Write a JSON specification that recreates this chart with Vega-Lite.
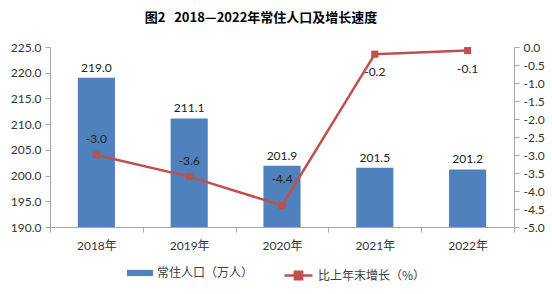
{
  "$schema": "https://vega.github.io/schema/vega-lite/v6.json",
  "width": 464,
  "height": 180,
  "autosize": "none",
  "padding": {"left": 50, "top": 47, "right": 38, "bottom": 67},
  "background": "white",
  "config": {"view": {"stroke": null}, "font": "Lato, Noto Sans CJK SC",
    "locale": {"number": {"decimal": ".", "thousands": ",", "grouping": [3], "currency": ["", ""], "minus": "-"}}},
  "title": {"text": "图2\u00a0\u00a0\u00a02018—2022年常住人口及增长速度", "font": "Noto Sans CJK SC", "fontSize": 13, "fontWeight": "bold", "color": "#000", "anchor": "middle", "dx": -21, "offset": 16},
  "data": {"values": [
    {"year": "2018年", "pop": 219.0, "growth": -3.0},
    {"year": "2019年", "pop": 211.1, "growth": -3.6},
    {"year": "2020年", "pop": 201.9, "growth": -4.4},
    {"year": "2021年", "pop": 201.5, "growth": -0.2},
    {"year": "2022年", "pop": 201.2, "growth": -0.1}
  ]},
  "encoding": {
    "x": {"field": "year", "type": "nominal", "sort": null,
      "scale": {"paddingInner": 0, "paddingOuter": 0},
      "axis": {"title": null, "labelAngle": 0, "tickBand": "extent", "tickSize": 5, "tickColor": "#A6A6A6", "domainColor": "#A6A6A6", "labelFont": "Lato, Noto Sans CJK SC", "labelFontSize": 12, "labelColor": "#333", "labelPadding": 8, "grid": false}}
  },
  "layer": [
    {
      "encoding": {
        "y": {"field": "pop", "type": "quantitative",
          "scale": {"domain": [190, 225], "nice": false, "zero": false},
          "axis": {"title": null, "values": [190, 195, 200, 205, 210, 215, 220, 225], "format": ".1f", "tickSize": 5, "tickColor": "#A6A6A6", "domainColor": "#A6A6A6", "labelFontSize": 12, "labelColor": "#333", "labelPadding": 4, "grid": false}}
      },
      "layer": [
        {"mark": {"type": "bar", "width": {"band": 0.4}},
          "encoding": {"y2": {"datum": 190},
            "fill": {"datum": "常住人口（万人）", "scale": {"range": ["#4F81BD"]},
              "legend": {"orient": "none", "legendX": 77, "legendY": 213, "title": null, "symbolType": "M-1,-0.24H1V0.24H-1Z", "symbolSize": 676, "symbolStrokeWidth": 0, "labelFont": "Noto Sans CJK SC", "labelFontSize": 12, "labelColor": "#404040", "labelOffset": 4}}}},
        {"mark": {"type": "text", "dy": -10, "fontSize": 12, "color": "#222"},
          "encoding": {"text": {"field": "pop", "type": "quantitative", "format": ".1f"}}}
      ]
    },
    {
      "encoding": {
        "y": {"field": "growth", "type": "quantitative",
          "scale": {"domain": [-5, 0], "nice": false, "zero": false},
          "axis": {"title": null, "orient": "right", "values": [-5, -4.5, -4, -3.5, -3, -2.5, -2, -1.5, -1, -0.5, 0], "format": ".1f", "tickSize": 5, "tickColor": "#A6A6A6", "domainColor": "#A6A6A6", "labelFontSize": 12, "labelColor": "#333", "labelPadding": 4, "grid": false}}
      },
      "layer": [
        {"mark": {"type": "line", "strokeWidth": 2.5},
          "encoding": {"stroke": {"datum": "比上年末增长（%）", "scale": {"range": ["#C0504D"]},
            "legend": {"orient": "none", "legendX": 233, "legendY": 213, "title": null, "symbolType": "M-1,0H1M-0.26,-0.26H0.26V0.26H-0.26Z", "symbolSize": 784, "symbolStrokeWidth": 2.5, "symbolFillColor": "#C0504D", "labelFont": "Noto Sans CJK SC", "labelFontSize": 12, "labelColor": "#404040", "labelOffset": 4}}}},
        {"mark": {"type": "point", "shape": "square", "size": 50, "filled": true, "opacity": 1, "color": "#C0504D"}},
        {"transform": [{"filter": "datum.growth < -2 && datum.growth > -4"}],
          "mark": {"type": "text", "dy": -16, "fontSize": 12, "color": "#222"},
          "encoding": {"text": {"field": "growth", "type": "quantitative", "format": ".1f"}}},
        {"transform": [{"filter": "datum.growth <= -4"}],
          "mark": {"type": "text", "dy": -26, "fontSize": 12, "color": "#222"},
          "encoding": {"text": {"field": "growth", "type": "quantitative", "format": ".1f"}}},
        {"transform": [{"filter": "datum.growth > -2"}],
          "mark": {"type": "text", "dy": 18, "fontSize": 12, "color": "#222"},
          "encoding": {"text": {"field": "growth", "type": "quantitative", "format": ".1f"}}}
      ]
    }
  ],
  "resolve": {"scale": {"y": "independent", "fill": "independent", "stroke": "independent"}}
}
